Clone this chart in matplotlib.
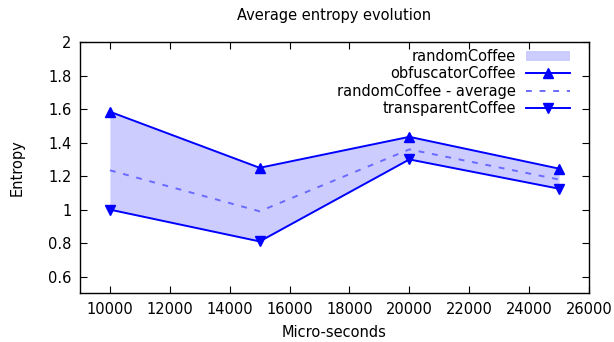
import numpy as np
import matplotlib
matplotlib.use('Agg')
import matplotlib.pyplot as plt
from matplotlib.patches import Patch
from matplotlib.lines import Line2D

# data
micro = [10000, 15000, 20000, 25000]
obfuscator = [1.585, 1.25, 1.435, 1.245]
transparent = [1.0, 0.81, 1.30, 1.125]
random_avg = [1.235, 0.99, 1.36, 1.18]
yticks = [0.6, 0.8, 1, 1.2, 1.4, 1.6, 1.8, 2]
xticks = [10000, 12000, 14000, 16000, 18000, 20000, 22000, 24000, 26000]

plt.rcParams['font.family'] = ['DejaVu Sans']
plt.rcParams['font.size'] = 10.5

blue = '#0000ff'
fillc = '#ccccff'
dashc = '#6a6aff'

fig = plt.figure(figsize=(6.14, 3.42), dpi=100)
ax = fig.add_axes([80/614, 1-293.3/342, (589-80)/614, (293.3-42.3)/342])

ax.fill_between(micro, transparent, obfuscator, color=fillc, lw=0)
ax.plot(micro, obfuscator, color=blue, lw=1.4, marker='^', ms=7.5)
ax.plot(micro, random_avg, color=dashc, lw=1.4, ls=(0, (3, 4)))
ax.plot(micro, transparent, color=blue, lw=1.4, marker='v', ms=7.5)

ax.set_xlim(9000, 26000)
ax.set_ylim(0.5, 2)
ax.set_xticks(xticks)
ax.set_yticks(yticks)
ax.set_yticklabels([('%g' % v) for v in yticks])
ax.tick_params(direction='in', top=True, right=True, length=5, width=0.8, pad=6)
for s in ax.spines.values():
    s.set_linewidth(1)

ax.set_title('Average entropy evolution', fontsize=10.5, pad=16)
ax.set_xlabel('Micro-seconds', labelpad=6)
ax.set_ylabel('Entropy', labelpad=17)

handles = [
    Patch(facecolor=fillc, edgecolor='none'),
    Line2D([], [], color=blue, lw=1.4, marker='^', ms=7.5),
    Line2D([], [], color=dashc, lw=1.4, ls=(0, (3, 4))),
    Line2D([], [], color=blue, lw=1.4, marker='v', ms=7.5),
]
labels = ['randomCoffee', 'obfuscatorCoffee', 'randomCoffee - average', 'transparentCoffee']
leg = ax.legend(handles, labels, loc='upper right', frameon=False, markerfirst=False,
                handlelength=3.0, handletextpad=0.7, labelspacing=0.15,
                borderaxespad=0.3, bbox_to_anchor=(0.983, 1.013))
for t in leg.get_texts():
    t.set_ha('right')

fig.savefig('out.png', dpi=100)
